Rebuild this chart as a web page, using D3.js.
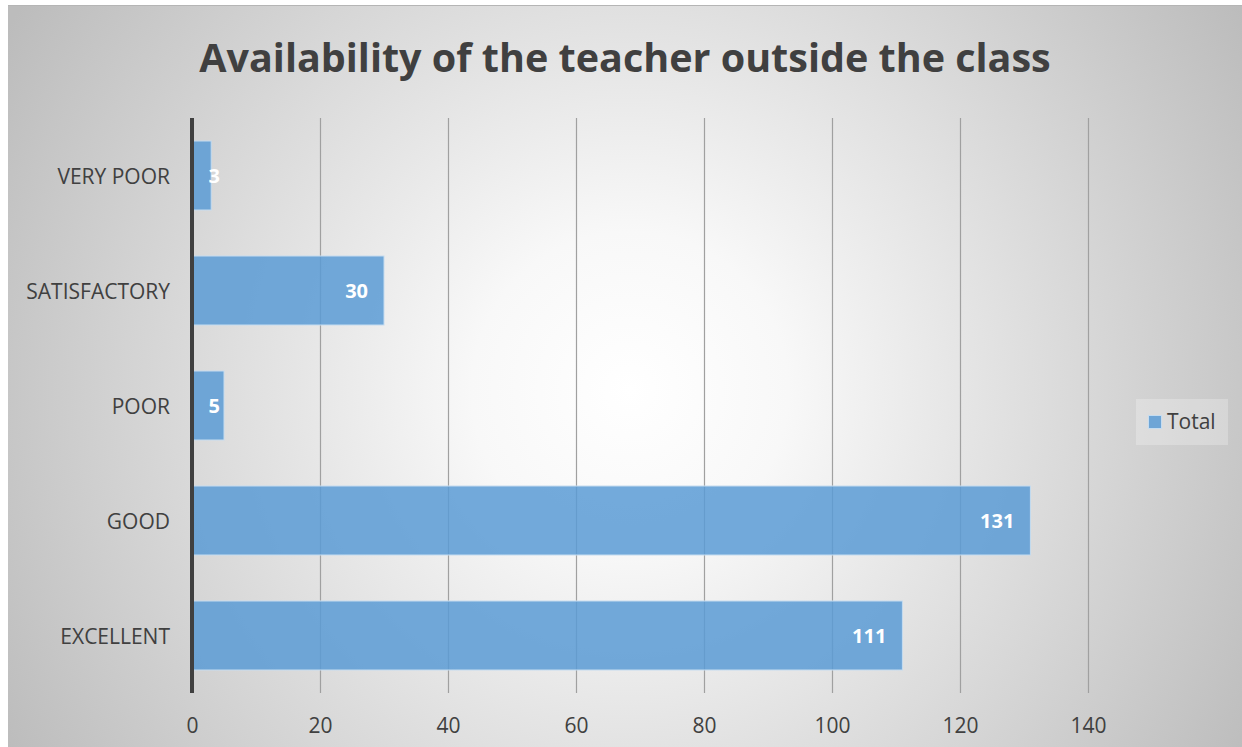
<!DOCTYPE html>
<html>
<head>
<meta charset="utf-8">
<script src="https://cdn.jsdelivr.net/npm/d3@7"></script>
<style>
html,body{margin:0;padding:0;background:#fff;}
svg{display:block;}
</style>
</head>
<body>
<svg id="chart" width="1242" height="747"></svg>
<script>
const title = "Availability of the teacher outside the class";
const categories = ["VERY POOR", "SATISFACTORY", "POOR", "GOOD", "EXCELLENT"];
const values = [3, 30, 5, 131, 111];
const xTicks = [0, 20, 40, 60, 80, 100, 120, 140];
const seriesName = "Total";

const svg = d3.select("#chart");
const W = 1242, H = 747;
const font = "'Open Sans', 'Noto Sans', sans-serif";

const defs = svg.append("defs");
const grad = defs.append("radialGradient").attr("id","bg")
  .attr("gradientUnits","userSpaceOnUse")
  .attr("cx",630).attr("cy",390).attr("r",720);
grad.append("stop").attr("offset","0").attr("stop-color","#ffffff");
grad.append("stop").attr("offset","0.22").attr("stop-color","#f8f8f8");
grad.append("stop").attr("offset","1").attr("stop-color","#bcbcbc");

svg.append("rect").attr("x",8).attr("y",5).attr("width",W-8).attr("height",H-5)
  .attr("fill","url(#bg)");
svg.append("line").attr("x1",8).attr("x2",W).attr("y1",5.5).attr("y2",5.5)
  .attr("stroke","#b5b5b5").attr("stroke-width",1);

const x0 = 192, x1 = 1088, yTop = 118, yBot = 693;
const x = d3.scaleLinear().domain([0, 140]).range([x0, x1]);
const y = d3.scaleBand().domain(categories).range([yTop, yBot]).paddingInner(0.4).paddingOuter(0.2);

// title
svg.append("text").attr("x",625).attr("y",72).attr("text-anchor","middle")
  .attr("font-family",font).attr("font-weight","bold").attr("font-size",39.5)
  .attr("fill","#404040").text(title);

// gridlines
svg.append("g").selectAll("line").data(xTicks.filter(d=>d>0)).join("line")
  .attr("x1",d=>x(d)+0.5).attr("x2",d=>x(d)+0.5).attr("y1",yTop).attr("y2",yBot)
  .attr("stroke","#a0a0a0").attr("stroke-width",1.2);

// bars
svg.append("g").selectAll("rect").data(categories).join("rect")
  .attr("x",x(0)).attr("y",d=>y(d))
  .attr("width",(d,i)=>x(values[i])-x(0)).attr("height",y.bandwidth())
  .attr("fill","#5b9bd5").attr("fill-opacity",0.85)
  .attr("stroke","#c5dcf0").attr("stroke-width",1);

// value labels
svg.append("g").selectAll("text").data(categories).join("text")
  .attr("x",(d,i)=>Math.max(x(values[i])-16, x(0)+28))
  .attr("y",d=>y(d)+y.bandwidth()/2+7)
  .attr("text-anchor","end")
  .attr("font-family",font).attr("font-weight","bold").attr("font-size",20)
  .attr("fill","#ffffff").text((d,i)=>values[i]);

// y axis line
svg.append("line").attr("x1",x0).attr("x2",x0).attr("y1",yTop).attr("y2",yBot)
  .attr("stroke","#404040").attr("stroke-width",4);

// category labels
svg.append("g").selectAll("text").data(categories).join("text")
  .attr("x",170).attr("y",d=>y(d)+y.bandwidth()/2+8)
  .attr("text-anchor","end")
  .attr("font-family",font).attr("font-size",21)
  .attr("fill","#404040").text(d=>d);

// x tick labels
const xAxis = d3.axisBottom(x).tickValues(xTicks).tickSize(0).tickPadding(0);
const gx = svg.append("g").attr("transform",`translate(0,${yBot+40})`).call(xAxis);
gx.select(".domain").remove();
gx.selectAll("text").attr("font-family",font).attr("font-size",21).attr("fill","#404040").attr("dy",0);

// legend
const lg = svg.append("g");
lg.append("rect").attr("x",1136).attr("y",399).attr("width",92).attr("height",46)
  .attr("fill","#ffffff").attr("fill-opacity",0.25);
lg.append("rect").attr("x",1148.5).attr("y",415.5).attr("width",13).attr("height",13)
  .attr("fill","#5b9bd5").attr("fill-opacity",0.85).attr("stroke","#c5dcf0");
lg.append("text").attr("x",1167).attr("y",429).attr("font-family",font).attr("font-size",21)
  .attr("fill","#404040").text(seriesName);
</script>
</body>
</html>
